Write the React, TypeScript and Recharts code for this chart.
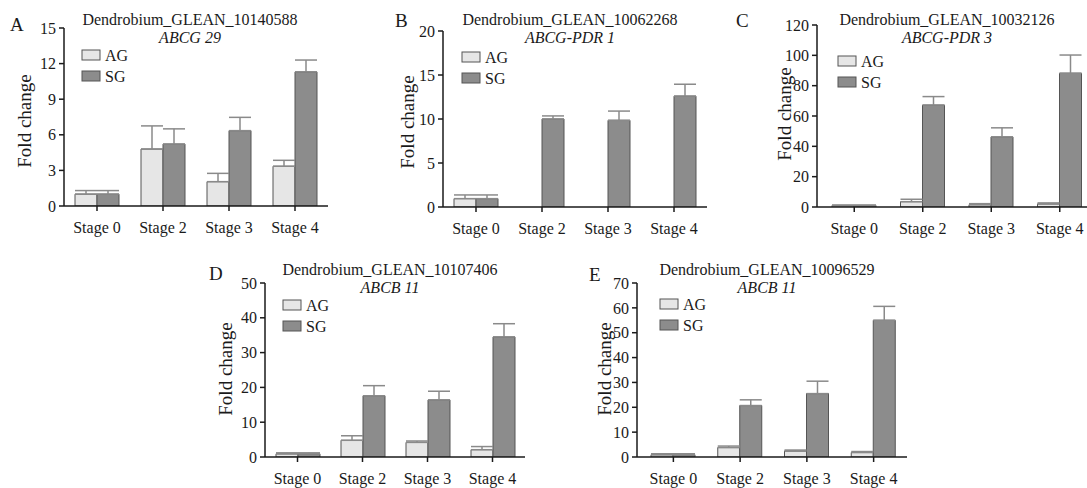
import React from "react";
import { BarChart, Bar, XAxis, YAxis, ErrorBar } from "recharts";

const stages = ["Stage 0", "Stage 2", "Stage 3", "Stage 4"];

// Panel A
const aAG = [1.0, 4.8, 2.05, 3.35];
const aAGErr = [0.3, 1.95, 0.7, 0.5];
const aSG = [1.0, 5.22, 6.35, 11.3];
const aSGErr = [0.3, 1.28, 1.12, 1.0];
const aTicks = [0, 3, 6, 9, 12, 15];

// Panel B
const bAG = [0.95, 0, 0, 0];
const bAGErr = [0.42, 0, 0, 0];
const bSG = [0.95, 10.0, 9.85, 12.6];
const bSGErr = [0.42, 0.35, 1.05, 1.35];
const bTicks = [0, 5, 10, 15, 20];

// Panel C
const cAG = [1.0, 3.5, 1.5, 2.0];
const cAGErr = [0.3, 1.6, 0.7, 0.7];
const cSG = [1.0, 67.2, 46.2, 88.2];
const cSGErr = [0.3, 5.6, 6.0, 12.0];
const cTicks = [0, 20, 40, 60, 80, 100, 120];

// Panel D
const dAG = [0.9, 4.8, 4.2, 2.1];
const dAGErr = [0.3, 1.3, 0.4, 0.9];
const dSG = [0.9, 17.6, 16.4, 34.5];
const dSGErr = [0.3, 2.9, 2.5, 3.8];
const dTicks = [0, 10, 20, 30, 40, 50];

// Panel E
const eAG = [0.9, 3.8, 2.4, 1.8];
const eAGErr = [0.4, 0.6, 0.4, 0.4];
const eSG = [0.9, 20.7, 25.5, 55.0];
const eSGErr = [0.4, 2.3, 5.0, 5.6];
const eTicks = [0, 10, 20, 30, 40, 50, 60, 70];

const letters = ["A", "B", "C", "D", "E"];
const geneIds = [
  "Dendrobium_GLEAN_10140588",
  "Dendrobium_GLEAN_10062268",
  "Dendrobium_GLEAN_10032126",
  "Dendrobium_GLEAN_10107406",
  "Dendrobium_GLEAN_10096529",
];
const geneNames = ["ABCG 29", "ABCG-PDR 1", "ABCG-PDR 3", "ABCB 11", "ABCB 11"];
const seriesNames = ["AG", "SG"];
const yLabel = "Fold change";

const FONT = "'Liberation Serif', 'Times New Roman', serif";
const AG_FILL = "#e6e6e6";
const SG_FILL = "#8c8c8c";
const BAR_STROKE = "#555";
const ERR_STROKE = "#8a8a8a";
const AXIS = "#1a1a1a";
const TEXT = "#1a1a1a";

function buildRows(ag: number[], agE: number[], sg: number[], sgE: number[]) {
  return stages.map((s, i) => ({
    stage: s,
    AG: ag[i],
    SG: sg[i],
    agErr: agE[i] ? [0, agE[i]] : null,
    sgErr: sgE[i] ? [0, sgE[i]] : null,
  }));
}

const panelData = [
  buildRows(aAG, aAGErr, aSG, aSGErr),
  buildRows(bAG, bAGErr, bSG, bSGErr),
  buildRows(cAG, cAGErr, cSG, cSGErr),
  buildRows(dAG, dAGErr, dSG, dSGErr),
  buildRows(eAG, eAGErr, eSG, eSGErr),
];
const panelTicks = [aTicks, bTicks, cTicks, dTicks, eTicks];

// layout (pixel geometry)
const layout = [
  { x0: 64, w: 264, pad: 0, yTop: 28, yZero: 206, letterX: 10, letterY: 31, titleX: 190, titleY: 25, legX: 82, legY: 55, ylX: 24, ylY: 121 },
  { x0: 443, w: 264, pad: 0, yTop: 31, yZero: 207, letterX: 395, letterY: 27, titleX: 570, titleY: 25, legX: 462, legY: 57, ylX: 407, ylY: 122 },
  { x0: 817, w: 277, pad: 3, yTop: 25, yZero: 207, letterX: 736, letterY: 27, titleX: 947, titleY: 25, legX: 838, legY: 61, ylX: 784, ylY: 114 },
  { x0: 265, w: 260, pad: 0, yTop: 283, yZero: 457, letterX: 209, letterY: 280, titleX: 390, titleY: 275, legX: 283, legY: 305, ylX: 225, ylY: 369 },
  { x0: 637, w: 270, pad: 3, yTop: 283, yZero: 457, letterX: 589, letterY: 281, titleX: 767, titleY: 275, legX: 660, legY: 304, ylX: 604, ylY: 369 },
];

const YW = 50;
const MT = 10;
const XH = 35;

function Panel({ idx }: { idx: number }) {
  const L = layout[idx];
  const ticks = panelTicks[idx];
  const max = ticks[ticks.length - 1];
  const width = YW + L.w + 2;
  const height = MT + (L.yZero - L.yTop) + XH;
  return (
    <div style={{ position: "absolute", left: L.x0 - YW, top: L.yTop - MT }}>
      <BarChart
        width={width}
        height={height}
        data={panelData[idx]}
        margin={{ top: MT, right: 2, left: 0, bottom: 0 }}
        barGap={0}
        barSize={22}
      >
        <XAxis
          dataKey="stage"
          height={XH}
          padding={{ left: L.pad, right: 0 }}
          axisLine={{ stroke: AXIS, strokeWidth: 1.5 }}
          tickLine={{ stroke: AXIS, strokeWidth: 1.5 }}
          tickSize={5}
          tickMargin={11}
          tick={{ fill: TEXT, fontSize: 16, fontFamily: FONT }}
          interval={0}
        />
        <YAxis
          width={YW}
          type="number"
          domain={[0, max]}
          ticks={ticks}
          allowDataOverflow
          axisLine={{ stroke: AXIS, strokeWidth: 1.5 }}
          tickLine={{ stroke: AXIS, strokeWidth: 1.5 }}
          tickSize={5}
          tickMargin={3}
          tick={{ fill: TEXT, fontSize: 16, fontFamily: FONT }}
          interval={0}
        />
        <Bar dataKey="AG" fill={AG_FILL} stroke={BAR_STROKE} strokeWidth={1} isAnimationActive={false}>
          <ErrorBar dataKey="agErr" width={11} stroke={ERR_STROKE} strokeWidth={1.5} direction="y" />
        </Bar>
        <Bar dataKey="SG" fill={SG_FILL} stroke={BAR_STROKE} strokeWidth={1} isAnimationActive={false}>
          <ErrorBar dataKey="sgErr" width={11} stroke={ERR_STROKE} strokeWidth={1.5} direction="y" />
        </Bar>
      </BarChart>
    </div>
  );
}

function Overlay() {
  return (
    <svg
      width={1087}
      height={488}
      style={{ position: "absolute", left: 0, top: 0, pointerEvents: "none" }}
      fontFamily={FONT}
    >
      {layout.map((L, i) => (
        <g key={i}>
          <text x={L.letterX} y={L.letterY} fontSize={19} fill={TEXT}>
            {letters[i]}
          </text>
          <text x={L.titleX} y={L.titleY} fontSize={16} textAnchor="middle" fill={TEXT}>
            {geneIds[i]}
          </text>
          <text x={L.titleX} y={L.titleY + 18} fontSize={16} fontStyle="italic" textAnchor="middle" fill={TEXT}>
            {geneNames[i]}
          </text>
          {seriesNames.map((n, k) => (
            <g key={n}>
              <rect
                x={L.legX}
                y={L.legY + k * 21 - 5}
                width={18}
                height={10}
                fill={k === 0 ? AG_FILL : SG_FILL}
                stroke={BAR_STROKE}
                strokeWidth={1}
              />
              <text x={L.legX + 23} y={L.legY + k * 21 + 5.5} fontSize={16} fill={TEXT}>
                {n}
              </text>
            </g>
          ))}
          <text
            x={L.ylX}
            y={L.ylY}
            fontSize={19}
            fill={TEXT}
            textAnchor="middle"
            dominantBaseline="central"
            transform={`rotate(-90 ${L.ylX} ${L.ylY})`}
          >
            {yLabel}
          </text>
        </g>
      ))}
    </svg>
  );
}

export default function App() {
  return (
    <div
      style={{
        position: "absolute",
        left: 0,
        top: 0,
        width: 1087,
        height: 488,
        overflow: "hidden",
        background: "#fff",
        fontFamily: FONT,
      }}
    >
      {[0, 1, 2, 3, 4].map((i) => (
        <Panel key={i} idx={i} />
      ))}
      <Overlay />
    </div>
  );
}
